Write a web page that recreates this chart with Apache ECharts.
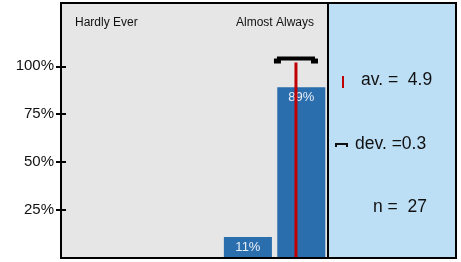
<!DOCTYPE html>
<html><head><meta charset="utf-8">
<script src="https://cdn.jsdelivr.net/npm/echarts@6/dist/echarts.min.js"></script>
<style>html,body{margin:0;padding:0;background:#fff}#c{width:461px;height:262px}</style>
</head><body><div id="c"></div>
<script>
const categories = ['1', '2', '3', '4', '5'];
const values = [0, 0, 0, 11, 89];
const tickValues = [25, 50, 75, 100];
const poleLabels = ['Hardly Ever', 'Almost Always'];
const mean = 4.9;
const dev = 0.3;
const n = 27;
const bracketLevel = 103;

const chart = echarts.init(document.getElementById('c'), null, {renderer: 'canvas'});
const FONT = 'Liberation Sans, Arial, sans-serif';

chart.setOption({
  animation: false,
  backgroundColor: '#ffffff',
  grid: {left: 61, right: 133, top: 3, bottom: 4, show: true, backgroundColor: '#e6e6e6', borderWidth: 0},
  xAxis: [
    {type: 'category', data: categories, show: false, boundaryGap: true},
    {type: 'value', min: 0.5, max: 5.5, show: false}
  ],
  yAxis: [
    {type: 'value', min: 0, max: 133, interval: 25,
     axisLine: {show: true, lineStyle: {color: '#000', width: 2}},
     axisTick: {show: false},
     axisLabel: {show: true, customValues: tickValues, formatter: v => v + '%', color: '#111', fontSize: 15, fontFamily: FONT, margin: 7},
     splitLine: {show: false}},
    {type: 'value', min: 0, max: 133, interval: 25, position: 'left', offset: -5,
     axisLine: {show: false},
     axisTick: {show: true, length: 10, inside: false, customValues: tickValues, lineStyle: {color: '#000', width: 2}},
     axisLabel: {show: false}, splitLine: {show: false}}
  ],
  series: [
    {type: 'bar', xAxisIndex: 0, yAxisIndex: 0, data: values, barWidth: '90%',
     itemStyle: {color: '#2a6ead'},
     label: {show: true, position: 'insideTop', distance: 4, color: '#e8eef6', fontSize: 13, fontFamily: FONT,
             formatter: p => p.value > 0 ? p.value + '%' : ''}},
    {type: 'line', xAxisIndex: 1, yAxisIndex: 0, data: [[mean, 0], [mean, bracketLevel - 1]],
     symbol: 'none', lineStyle: {color: '#c00000', width: 3}, z: 5},
    {type: 'custom', xAxisIndex: 1, yAxisIndex: 0, z: 6,
     data: [[mean - dev, mean + dev, bracketLevel]],
     renderItem: function (params, api) {
       const a = api.coord([api.value(0), api.value(2)]);
       const b = api.coord([api.value(1), api.value(2)]);
       return {type: 'group', children: [
         {type: 'rect', shape: {x: a[0] - 3, y: a[1] - 4, width: b[0] - a[0] + 6, height: 4}, style: {fill: '#000'}},
         {type: 'rect', shape: {x: a[0] - 6, y: a[1] - 2, width: 7, height: 5}, style: {fill: '#000'}},
         {type: 'rect', shape: {x: b[0] - 1, y: a[1] - 2, width: 7, height: 5}, style: {fill: '#000'}}
       ]};
     }}
  ],
  graphic: [
    {type: 'rect', shape: {x: 328, y: 3, width: 128, height: 255}, style: {fill: '#bddff5'}, z: -1},
    {type: 'rect', shape: {x: 61, y: 3, width: 395, height: 255}, style: {fill: 'none', stroke: '#000', lineWidth: 2}, z: 10},
    {type: 'line', shape: {x1: 328, y1: 3, x2: 328, y2: 258}, style: {stroke: '#000', lineWidth: 2}, z: 10},
    {type: 'text', x: 75, y: 23, style: {text: poleLabels[0], fill: '#111', fontSize: 12, fontFamily: FONT, verticalAlign: 'middle'}},
    {type: 'text', x: 314, y: 23, style: {text: poleLabels[1], fill: '#111', fontSize: 12, fontFamily: FONT, align: 'right', verticalAlign: 'middle'}},
    {type: 'rect', shape: {x: 342, y: 76, width: 2, height: 12}, style: {fill: '#c00000'}},
    {type: 'text', x: 361, y: 80, style: {text: 'av. =  ' + mean.toFixed(1), fill: '#111', fontSize: 17.5, fontFamily: FONT, verticalAlign: 'middle'}},
    {type: 'rect', shape: {x: 336, y: 143, width: 11, height: 2}, style: {fill: '#111'}},
    {type: 'rect', shape: {x: 335, y: 143, width: 2, height: 4}, style: {fill: '#111'}},
    {type: 'rect', shape: {x: 346, y: 143, width: 2, height: 4}, style: {fill: '#111'}},
    {type: 'text', x: 355, y: 144, style: {text: 'dev. =' + dev.toFixed(1), fill: '#111', fontSize: 17.5, fontFamily: FONT, verticalAlign: 'middle'}},
    {type: 'text', x: 373, y: 207, style: {text: 'n =  ' + n, fill: '#111', fontSize: 17.5, fontFamily: FONT, verticalAlign: 'middle'}}
  ]
});
</script></body></html>
